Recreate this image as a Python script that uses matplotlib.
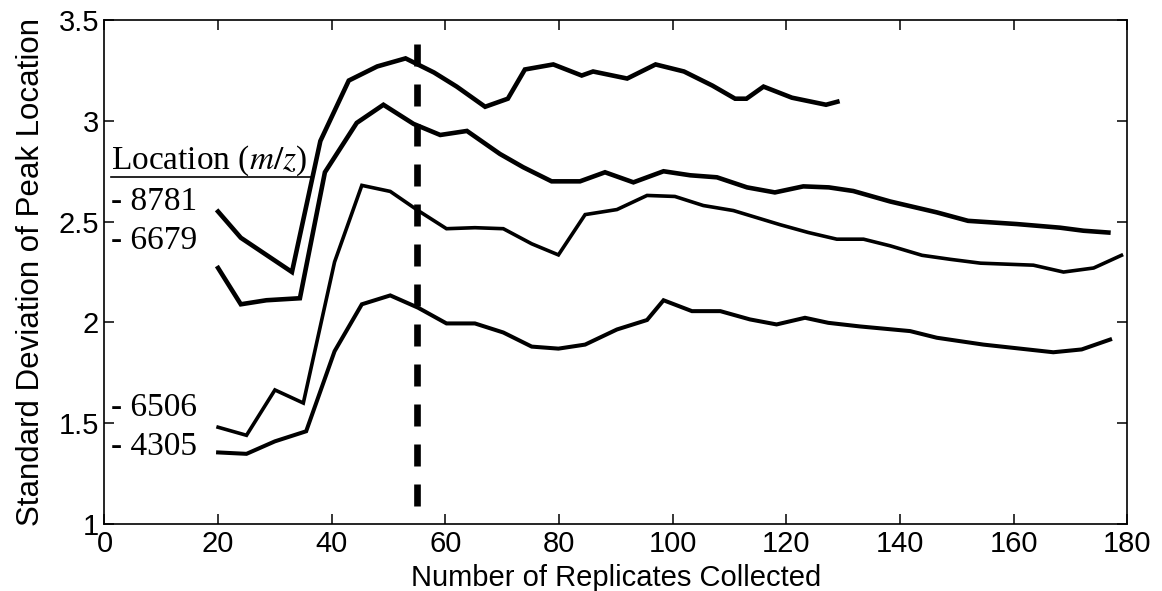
#!/bin/env python3

import matplotlib.pyplot as plt

# m/z 8781
x_8781 = [20, 24, 33, 38, 43, 48, 53, 58, 62, 67, 71, 74, 79, 84, 86, 92, 97, 102,
          107, 111, 113, 116, 121, 127, 129]
y_8781 = [2.55, 2.42, 2.25, 2.90, 3.20, 3.27, 3.31, 3.24, 3.17, 3.07, 3.11, 3.255, 3.28,
          3.225, 3.245, 3.21, 3.28, 3.245, 3.175, 3.11, 3.11, 3.17, 3.115, 3.08, 3.095]

# m/z 6679
x_6679 = [20, 24, 28.5, 34.4, 38.8, 44.4, 49.1, 54.4, 59.1, 63.8, 69.6, 73.7, 78.7, 83.7,
          88.1, 93.1, 98.4, 103.1, 107.8, 113.1, 118, 123, 127.5, 131.8, 138.3, 146.5,
          152, 160.6, 168.2, 172.3, 176.7]
y_6679 = [2.27, 2.09, 2.11, 2.12, 2.745, 2.99, 3.08, 2.985, 2.93, 2.95, 2.836, 2.77, 2.70,
          2.70, 2.745, 2.695, 2.75, 2.73, 2.72, 2.67, 2.645, 2.675, 2.67, 2.652, 2.60, 2.546,
          2.504, 2.488, 2.47, 2.455, 2.446]

# m/z 6506
x_6506 = [20, 25, 30, 35, 40.5, 45.3, 50.3, 55.2, 60.2, 65.2, 70.2, 75.2, 79.9, 84.6, 90.2,
          95.5, 100.4, 105.4, 110.7, 118.9, 123.9, 128.9, 133.6, 138.3, 143.9, 148.9, 154.2,
          163.5, 168.8, 174.1, 179]
y_6506 = [1.48, 1.44, 1.665, 1.60, 2.30, 2.68, 2.65, 2.555, 2.465, 2.47, 2.465, 2.39, 2.335,
          2.535, 2.56, 2.63, 2.625, 2.58, 2.555, 2.485, 2.446, 2.413, 2.413, 2.38, 2.333,
          2.313, 2.294, 2.284, 2.25, 2.27, 2.333]

# m/z 4305
x_4305 = [20, 25, 30, 35.5, 40.5, 45.3, 50.3, 55.2, 60.2, 65.2, 70.2, 75.2, 79.9, 84.6,
          90.2, 95.5, 98.4, 103.4, 108.4, 113.6, 118.3, 123.3, 127.4, 133, 141.8, 146.5,
          154.7, 167, 172, 177]
y_4305 = [1.355, 1.348, 1.41, 1.46, 1.857, 2.09, 2.134, 2.073, 1.995, 1.995, 1.95, 1.88,
          1.87, 1.89, 1.965, 2.012, 2.11, 2.056, 2.056, 2.015, 1.99, 2.023, 1.998, 1.98,
          1.957, 1.924, 1.89, 1.852, 1.866, 1.915]

cutoff = 55
labels = ["8781", "6679", "6506", "4305"]
label_y = [2.597, 2.403, 1.577, 1.383]

x_ticks = [0, 20, 40, 60, 80, 100, 120, 140, 160, 180]
y_ticks = [1, 1.5, 2, 2.5, 3, 3.5]
y_ticklabels = ["1", "1.5", "2", "2.5", "3", "3.5"]


def make_plot() -> int:
    """draw the std-dev vs replicates figure"""

    plt.rcParams['font.family'] = ['Liberation Sans', 'DejaVu Sans']
    plt.rcParams['mathtext.fontset'] = 'stix'

    fig = plt.figure(figsize=(11.62, 5.91), dpi=100)
    ax = fig.add_axes([0.0899, 0.1134, 0.8801, 0.8526])

    ax.plot(x_8781, y_8781, color="black", lw=3.3, solid_joinstyle="miter")
    ax.plot(x_6679, y_6679, color="black", lw=3.3, solid_joinstyle="miter")
    ax.plot(x_6506, y_6506, color="black", lw=2.6, solid_joinstyle="miter")
    ax.plot(x_4305, y_4305, color="black", lw=2.9, solid_joinstyle="miter")

    ax.plot([cutoff, cutoff], [3.38, 1.09], color="black", lw=4.8,
            dashes=(3.3, 2.7), solid_capstyle="butt")

    # legend-like annotation
    ax.text(1.1, 2.761, "Location ($m/z$)", family="Liberation Serif", fontsize=24,
            ha="left", va="baseline")
    ax.plot([1.1, 36.5], [2.721, 2.721], color="black", lw=1.2)
    for lab, yy in zip(labels, label_y):
        ax.text(1.1, yy, "- " + lab, family="Liberation Serif", fontsize=24,
                ha="left", va="center")

    ax.set_xlim(0, 180)
    ax.set_ylim(1, 3.5)
    ax.set_xticks(x_ticks)
    ax.set_yticks(y_ticks)
    ax.set_yticklabels(y_ticklabels)
    ax.tick_params(direction="in", length=7, width=1.1, top=True, right=True,
                   labelsize=21, pad=4)
    for s in ax.spines.values():
        s.set_linewidth(1.2)

    ax.set_xlabel("Number of Replicates Collected", fontsize=21, labelpad=5)
    ax.set_ylabel("Standard Deviation of Peak Location", fontsize=22.5, labelpad=9)

    fig.savefig("out.png", dpi=100)

    return 0


def main() -> int:
    make_plot()
    return 0


if __name__ == "__main__":
    main()
